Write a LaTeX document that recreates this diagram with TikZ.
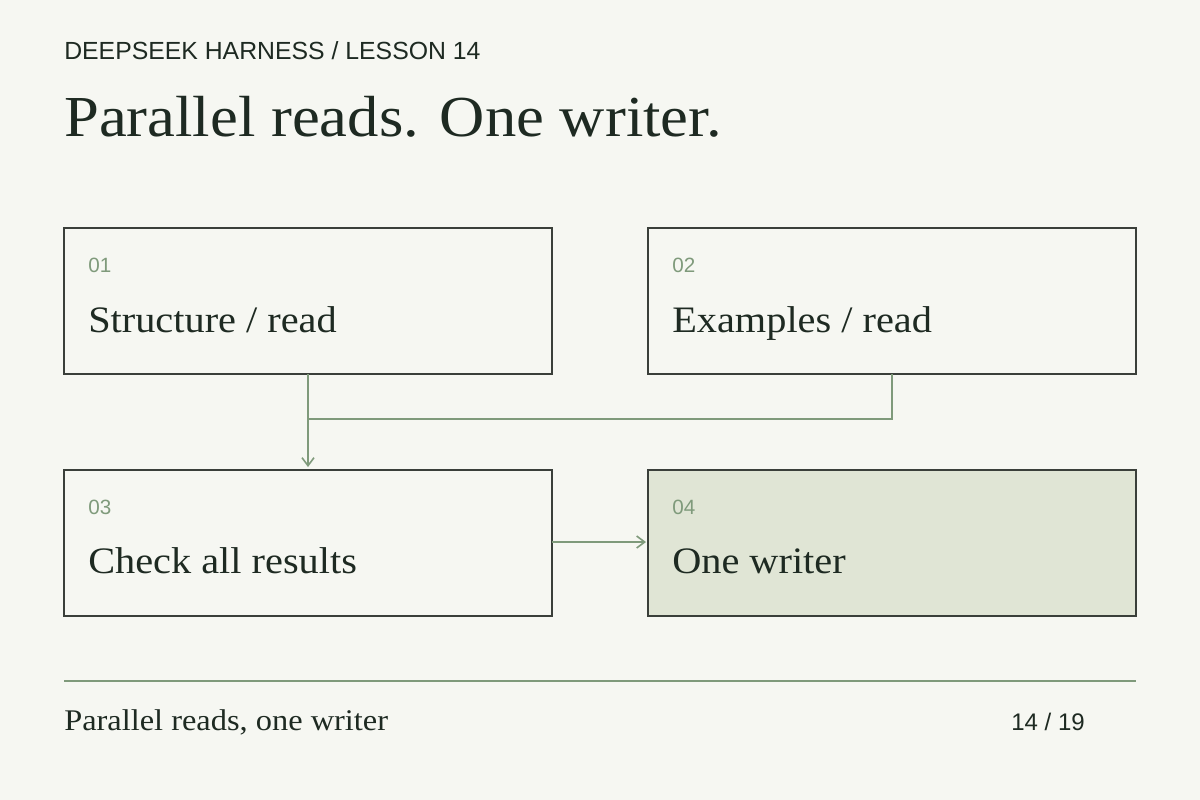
\documentclass[tikz,border=0pt]{standalone}
\usepackage{fontspec}
\setmainfont{Liberation Serif}[FakeStretch=1.08]
\setsansfont{Liberation Sans}
\usetikzlibrary{arrows.meta}
\definecolor{bg}{HTML}{F6F7F2}
\definecolor{ink}{HTML}{1E2A22}
\definecolor{line}{HTML}{3A3F3A}
\definecolor{sage}{HTML}{7F9A7B}
\definecolor{fillg}{HTML}{E0E5D5}
\begin{document}
\begin{tikzpicture}[x=0.75pt,y=-0.75pt,
  box/.style={draw=line,line width=1pt},
  num/.style={anchor=base west,inner sep=0,font=\sffamily\fontsize{15.5}{15.5}\selectfont,text=sage},
  lab/.style={anchor=base west,inner sep=0,font=\fontsize{28}{28}\selectfont,text=ink},
  conn/.style={draw=sage,line width=1.2pt},
  arr/.style={conn,-{Straight Barb[length=6pt,width=9pt]}}]
\fill[bg] (0,0) rectangle (1200,800);
\useasboundingbox (0,0) rectangle (1200,800);
\node[anchor=base west,inner sep=0,font=\sffamily\fontsize{18.6}{18.6}\selectfont,text=ink] (hdr) at (64,59) {DEEPSEEK HARNESS / LESSON 14};
\node[anchor=base west,inner sep=0,font=\fontsize{43.5}{43.5}\selectfont,text=ink] (title) at (64,136) {Parallel reads. One writer.};
\draw[box] (64,228) rectangle (552,374);
\draw[box] (648,228) rectangle (1136,374);
\draw[box] (64,470) rectangle (552,616);
\draw[box,fill=fillg] (648,470) rectangle (1136,616);
\node[num] (n1) at (88,272) {01};
\node[lab] (l1) at (88,332) {Structure / read};
\node[num] (n2) at (672,272) {02};
\node[lab] (l2) at (672,332) {Examples / read};
\node[num] (n3) at (88,514) {03};
\node[lab] (l3) at (88,573) {Check all results};
\node[num] (n4) at (672,514) {04};
\node[lab] (l4) at (672,573) {One writer};
\coordinate (a1) at (308,374); \coordinate (a1e) at (308,467);
\coordinate (a2) at (892,374); \coordinate (a2m) at (892,419); \coordinate (j) at (308,419);
\coordinate (c1) at (552,542); \coordinate (c2) at (646,542);
\draw[arr] (a1) -- (a1e);
\draw[conn] (a2) -- (a2m) -- (j);
\draw[arr] (c1) -- (c2);
\draw[sage,line width=1.2pt] (64,681) -- (1136,681);
\node[anchor=base west,inner sep=0,font=\fontsize{22.5}{22.5}\selectfont,text=ink] (foot) at (64,730) {Parallel reads, one writer};
\node[anchor=base east,inner sep=0,font=\sffamily\fontsize{18}{18}\selectfont,text=ink] (pg) at (1085,730) {14 / 19};
\end{tikzpicture}
\end{document}
